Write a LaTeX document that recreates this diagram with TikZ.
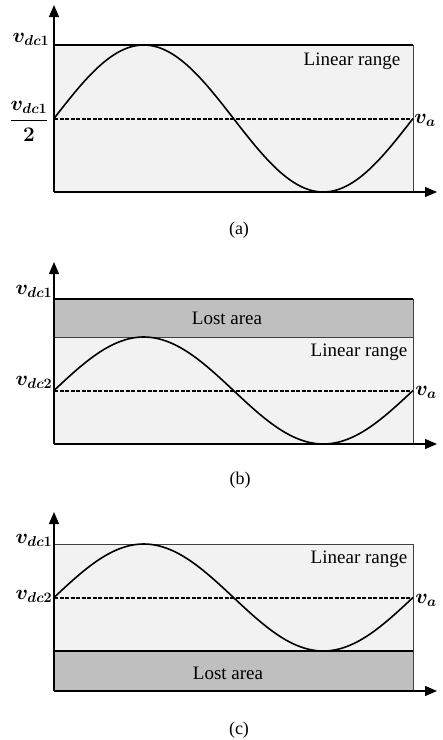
\documentclass[tikz,border=0pt]{standalone}
\usepackage{amsmath}
\usepackage{fontspec}
\setmainfont{Liberation Serif}
\usetikzlibrary{arrows.meta}
\definecolor{linfill}{HTML}{F2F2F2}
\definecolor{lostfill}{HTML}{BFBFBF}
\tikzset{
  axis/.style={line width=1.3pt,-{Triangle[length=12pt,width=10pt]}},
  boxline/.style={draw=black!75,line width=0.8pt},
  thickline/.style={line width=2.2pt},
  wave/.style={line width=1.6pt},
  midline/.style={line width=2pt,dash pattern=on 4pt off 1.5pt},
  lbl/.style={font=\fontsize{19}{22}\selectfont,inner sep=0pt},
  mlbl/.style={font=\fontsize{20}{24}\selectfont,inner sep=0pt},
  captxt/.style={font=\fontsize{18}{20}\selectfont,inner sep=0pt}
}
\begin{document}
\begin{tikzpicture}[x=1pt,y=-1pt]
\useasboundingbox (0,0) rectangle (443,740);
\fill[white] (0,0) rectangle (443,740);
% ---------- (a) ----------
\fill[linfill] (54,45) rectangle (413,192);
\draw[boxline] (413,45) -- (413,192);
\draw[thickline] (54,45) -- (413,45);
\draw[midline] (54,118.5) -- (413,118.5);
\draw[wave] plot[domain=0:359,samples=120] ({54+\x},{118.5-73.5*sin(\x*1.002786)});
\coordinate (a0) at (54,192);
\coordinate (ay) at (54,5);
\coordinate (ax) at (437,192);
\draw[axis] (a0) -- (ay);
\draw[axis] (a0) -- (ax);
\node[mlbl] (a1) at (31,39) {$\boldsymbol{v_{dc1}}$};
\node[mlbl] (a2) at (29,121) {$\displaystyle\boldsymbol{\frac{v_{dc1}}{2}}$};
\node[mlbl] (a3) at (425,120) {$\boldsymbol{v_{a}}$};
\node[lbl] (a4) at (352,61) {Linear range};
\node[captxt] (a5) at (239,230) {(a)};
% ---------- (b) ----------
\fill[lostfill] (54,299) rectangle (413,337);
\fill[linfill] (54,337) rectangle (413,444);
\draw[boxline] (413,299) -- (413,444);
\draw[boxline] (54,337) -- (413,337);
\draw[thickline] (54,299) -- (413,299);
\draw[midline] (54,390.5) -- (413,390.5);
\draw[wave] plot[domain=0:359,samples=120] ({54+\x},{390.5-53.5*sin(\x*1.002786)});
\coordinate (b0) at (54,444);
\coordinate (by) at (54,262);
\coordinate (bx) at (437,444);
\draw[axis] (b0) -- (by);
\draw[axis] (b0) -- (bx);
\node[mlbl] (b1) at (34,291) {$\boldsymbol{v_{dc1}}$};
\node[mlbl] (b2) at (34,382) {$\boldsymbol{v_{dc2}}$};
\node[mlbl] (b3) at (426,392) {$\boldsymbol{v_{a}}$};
\node[lbl] (b4) at (227,318) {Lost area};
\node[lbl] (b5) at (359,352) {Linear range};
\node[captxt] (b6) at (240,480) {(b)};
% ---------- (c) ----------
\fill[linfill] (54,544) rectangle (413,651);
\fill[lostfill] (54,651) rectangle (413,691);
\draw[boxline] (413,544) -- (413,691);
\draw[boxline] (54,544) -- (413,544);
\draw[thickline] (54,651) -- (413,651);
\draw[midline] (54,597.5) -- (413,597.5);
\draw[wave] plot[domain=0:359,samples=120] ({54+\x},{597.5-53.5*sin(\x*1.002786)});
\coordinate (c0) at (54,691);
\coordinate (cy) at (54,512);
\coordinate (cx) at (437,691);
\draw[axis] (c0) -- (cy);
\draw[axis] (c0) -- (cx);
\node[mlbl] (c1) at (34,540) {$\boldsymbol{v_{dc1}}$};
\node[mlbl] (c2) at (34,596) {$\boldsymbol{v_{dc2}}$};
\node[mlbl] (c3) at (426,600) {$\boldsymbol{v_{a}}$};
\node[lbl] (c4) at (228,673) {Lost area};
\node[lbl] (c5) at (359,559) {Linear range};
\node[captxt] (c6) at (239,730) {(c)};
\end{tikzpicture}
\end{document}
